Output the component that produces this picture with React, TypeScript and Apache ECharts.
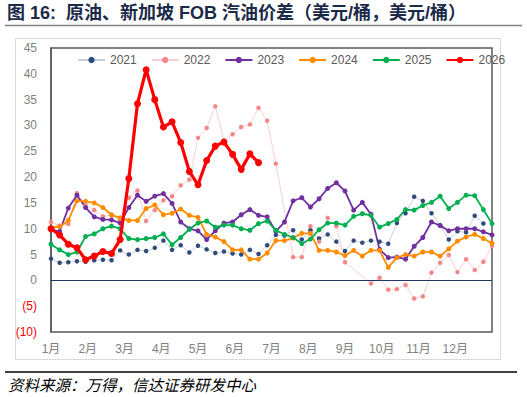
import React, { useEffect, useRef } from "react";
import * as echarts from "echarts";

// Weekly spreads (USD/bbl), week index 0..51 across the calendar year
const years = ["2021", "2022", "2023", "2024", "2025", "2026"];

const spread2021 = [
  4.2, 3.4, 3.5, 3.7, 3.6, 3.9, 4.0, 3.9, 5.8, 5.0, 5.9, 5.7, 6.3, 7.7, 5.9, 6.8, 5.4, 6.7, 6.0, 5.3,
  5.6, 5.2, 5.0, 5.9, 5.1, 6.8, 8.8, 8.7, 9.7, 7.9, 9.7, 8.1, 8.9, 7.5, 5.7, 7.7, 7.3, 7.7, 7.5, 7.1,
  11.1, 13.0, 16.2, 15.4, 13.0, 10.7, 7.9, 9.5, 9.3, 12.5, 11.0,
];

const spread2022 = [
  11.3, 10.6, 10.9, 16.9, 14.5, 13.6, 12.4, 12.6, 11.5, 16.0, 17.4, 11.5, 13.6, 15.5, 16.3, 18.4, 19.5,
  27.6, 29.5, 33.7, 27.1, 28.3, 29.7, 30.2, 33.4, 30.9, 22.6, null, 4.5, 4.5, 10.5, 7.5, 12.1, 10.5, 3.5,
  null, null, -0.6, 0.5, -1.8, -1.7, -0.9, -3.5, -3.1, 1.5, 3.4, 4.9, 1.6, 4.1, 2.0, 3.6, 6.7,
];

const spread2023 = [
  9.8, 9.5, 14.0, 16.5, 14.1, 12.3, 11.8, 11.7, 11.1, 14.1, 16.5, 15.3, 16.3, 16.8, 14.9, 11.3, 10.0, 9.6,
  7.9, 9.6, 11.1, 11.3, 12.7, 13.7, 12.6, 12.3, 9.5, 11.3, 15.4, 16.0, 14.2, 15.8, 17.8, 18.9, 17.3, 13.6,
  15.1, 12.8, 6.0, 4.4, 4.5, 4.1, 6.6, 8.3, 11.3, 10.6, 9.6, 10.0, 10.0, 10.0, 9.4, 8.8,
];

const spread2024 = [
  10.2, 10.4, 11.6, 15.4, 15.3, 15.0, 14.1, 12.7, 12.1, 11.6, 11.6, 13.9, 14.6, 12.7, 13.0, 13.8, 12.6,
  12.2, 8.9, 8.4, 7.5, 5.9, 5.9, 4.1, 4.1, 5.3, 7.7, 7.7, 8.2, 9.1, 9.1, 5.8, 5.8, 5.5, 4.8, 5.8, 4.7,
  5.8, 5.8, 2.5, 4.4, 5.0, 4.7, 5.5, 5.5, 4.7, 6.1, 7.6, 8.4, 8.9, 8.1, 7.2,
];

const spread2025 = [
  7.0, 5.9, 5.0, 5.5, 8.5, 9.0, 10.0, 10.5, 10.0, 8.1, 7.9, 8.1, 8.3, 9.0, 6.9, 8.3, 9.9, 11.1, 11.5,
  10.3, 10.7, 10.7, 10.0, 9.7, 11.0, 11.5, 9.7, 8.9, 8.3, 7.1, 8.0, 9.8, 11.1, 11.1, 10.7, 12.4, 12.9,
  12.6, 10.3, 11.0, 11.8, 13.7, 13.6, 14.5, 15.1, 16.3, 13.9, 15.1, 16.5, 16.4, 13.7, 11.0,
];

const spread2026 = [
  10.0, 8.8, 7.0, 6.3, 4.0, 4.7, 5.6, 5.2, 7.9, 19.7, 34.2, 40.8, 35.0, 29.7, 30.7, 26.7, 21.1, 18.5,
  23.2, 26.0, 26.8, 24.4, 21.5, 24.5, 22.8,
];

const monthLabels = ["1月", "2月", "3月", "4月", "5月", "6月", "7月", "8月", "9月", "10月", "11月", "12月"];

const titleText = "图 16:  原油、新加坡 FOB 汽油价差（美元/桶，美元/桶）";
const sourceText = "资料来源：万得，信达证券研发中心";

const WEEKS_PER_MONTH = 51 / 12;

const toPairs = (arr: (number | null)[]) => arr.map((v, i) => [i, v]);

export default function App() {
  const ref = useRef<HTMLDivElement>(null);

  useEffect(() => {
    if (!ref.current) return;
    const chart = echarts.init(ref.current, null, { renderer: "svg" });

    const font = '"Liberation Sans", "Noto Sans CJK SC", sans-serif';

    const thin = (name: string, data: (number | null)[], lineColor: string, dotColor: string, size = 4.5) => ({
      name,
      type: "line",
      data: toPairs(data),
      connectNulls: true,
      symbol: "circle",
      symbolSize: size,
      showSymbol: true,
      lineStyle: { color: lineColor, width: 1 },
      itemStyle: { color: dotColor },
    });

    const mid = (name: string, data: (number | null)[], color: string) => ({
      name,
      type: "line",
      data: toPairs(data),
      symbol: "circle",
      symbolSize: 5,
      lineStyle: { color, width: 1.8 },
      itemStyle: { color },
    });

    const s2021: any = thin(years[0], spread2021, "#c8cfdc", "#2f4b7c");
    s2021.markLine = {
      silent: true,
      symbol: "none",
      label: { show: false },
      lineStyle: { color: "#203864", width: 1.2, type: "solid" },
      data: [{ yAxis: 0 }],
    };

    const option: any = {
      animation: false,
      backgroundColor: "#ffffff",
      textStyle: { fontFamily: font },
      grid: {
        left: 51,
        top: 48,
        width: 441,
        height: 284,
        show: true,
        borderColor: "#595959",
        borderWidth: 1.5,
        containLabel: false,
      },
      legend: {
        left: 72,
        top: 49,
        itemWidth: 27,
        itemHeight: 8,
        itemGap: 14,
        textStyle: { fontSize: 12, color: "#595959", fontFamily: font },
        data: years,
      },
      xAxis: {
        type: "value",
        min: 0,
        max: 51,
        interval: WEEKS_PER_MONTH,
        splitLine: { show: false },
        axisTick: { show: false },
        axisLine: { show: false },
        axisLabel: {
          showMaxLabel: false,
          margin: 11,
          fontSize: 12,
          color: "#7f7f7f",
          fontFamily: font,
          formatter: (v: number) => {
            const k = Math.round(v / WEEKS_PER_MONTH);
            return k >= 0 && k < 12 ? monthLabels[k] : "";
          },
        },
      },
      yAxis: {
        type: "value",
        min: -10,
        max: 45,
        interval: 5,
        splitLine: { show: false },
        axisTick: { show: false },
        axisLine: { show: true, lineStyle: { color: "#595959", width: 1.5 } },
        axisLabel: {
          margin: 14,
          fontSize: 12,
          fontFamily: font,
          color: (v: any) => (Number(v) < 0 ? "#ff0000" : "#7f7f7f"),
          formatter: (v: number) => (v < 0 ? `(${-v})` : `${v}`),
        },
      },
      series: [
        s2021,
        thin(years[1], spread2022, "#f9cfd0", "#f4878a"),
        mid(years[2], spread2023, "#7030a0"),
        mid(years[3], spread2024, "#ff8c00"),
        mid(years[4], spread2025, "#00b050"),
        {
          name: years[5],
          type: "line",
          data: toPairs(spread2026),
          symbol: "circle",
          symbolSize: 7,
          lineStyle: { color: "#ff0000", width: 3.2 },
          itemStyle: { color: "#ff0000" },
          z: 10,
        },
      ],
      graphic: [
        {
          type: "text",
          left: 7,
          top: 4,
          style: {
            text: titleText,
            fontSize: 18,
            fontWeight: "bold",
            fontFamily: '"Liberation Sans", "Noto Sans CJK SC", sans-serif',
            fill: "#1c2a4a",
          },
        },
        {
          type: "line",
          shape: { x1: 5, y1: 25.5, x2: 522, y2: 25.5 },
          style: { stroke: "#808080", lineWidth: 1.5 },
        },
        {
          type: "rect",
          shape: { x: 15.5, y: 38.5, width: 485, height: 321 },
          style: { fill: "none", stroke: "#d9d9d9", lineWidth: 1 },
          z: -1,
        },
        {
          type: "line",
          shape: { x1: 5, y1: 372, x2: 517, y2: 372 },
          style: { stroke: "#000000", lineWidth: 1.5 },
        },
        {
          type: "text",
          left: 8,
          top: 376,
          style: {
            text: sourceText,
            fontSize: 15.5,
            fontStyle: "italic",
            fontFamily: '"Noto Sans CJK SC", sans-serif',
            fill: "#000000",
          },
        },
      ],
    };

    chart.setOption(option);
    return () => chart.dispose();
  }, []);

  return (
    <div
      ref={ref}
      style={{ position: "fixed", left: 0, top: 0, width: 527, height: 397, background: "#fff" }}
    />
  );
}
